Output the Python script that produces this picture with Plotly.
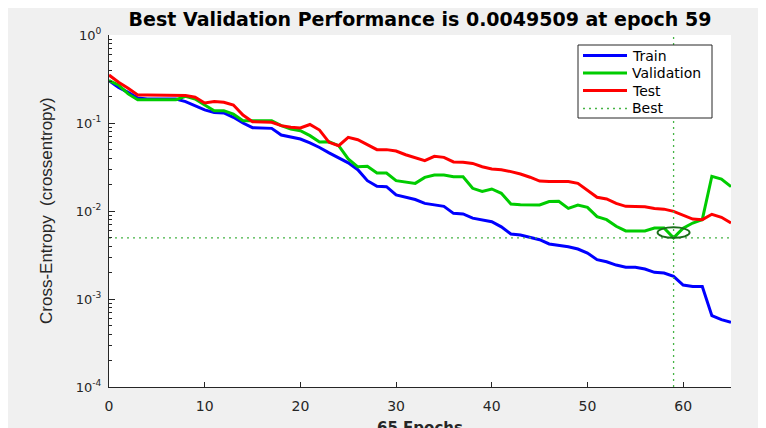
import plotly.graph_objects as go

# ---------------- data ----------------
epochs = list(range(0, 66))

train = [0.303, 0.254, 0.223, 0.192, 0.187, 0.187, 0.187, 0.187, 0.175, 0.157,
         0.141, 0.132, 0.130, 0.116, 0.100, 0.0885, 0.0878, 0.0869, 0.0730, 0.0687,
         0.0658, 0.0593, 0.0527, 0.0458, 0.0402, 0.0353, 0.0295, 0.0221, 0.0191, 0.0189,
         0.0152, 0.0143, 0.0135, 0.0122, 0.0117, 0.0113, 0.0094, 0.00925, 0.0083, 0.00796,
         0.00756, 0.0066, 0.00548, 0.00534, 0.00502, 0.00472, 0.00422, 0.00411, 0.00393, 0.00370,
         0.00333, 0.0028, 0.00265, 0.00243, 0.00229, 0.00229, 0.00219, 0.00201, 0.00197, 0.00181,
         0.00144, 0.00139, 0.00139, 0.000647, 0.000582, 0.000543]

validation = [0.303, 0.270, 0.214, 0.184, 0.184, 0.184, 0.184, 0.184, 0.201, 0.187,
              0.160, 0.138, 0.138, 0.126, 0.106, 0.106, 0.106, 0.106, 0.0933, 0.0855,
              0.0818, 0.0718, 0.0608, 0.0613, 0.0552, 0.039, 0.0318, 0.0323, 0.027, 0.027,
              0.0221, 0.0212, 0.0206, 0.0241, 0.0256, 0.0256, 0.0245, 0.0245, 0.0181, 0.0167,
              0.0178, 0.0159, 0.012, 0.0118, 0.0117, 0.0117, 0.0128, 0.0129, 0.0107, 0.0117,
              0.0110, 0.00862, 0.00797, 0.0067, 0.00593, 0.00593, 0.00593, 0.00641, 0.00641, 0.0049509,
              0.00636, 0.0073, 0.00797, 0.0248, 0.0231, 0.0189]

test = [0.351, 0.290, 0.248, 0.208, 0.208, 0.208, 0.208, 0.208, 0.205, 0.196,
        0.169, 0.175, 0.172, 0.160, 0.123, 0.1035, 0.1035, 0.102, 0.0933, 0.0893,
        0.0877, 0.0962, 0.0832, 0.0603, 0.0552, 0.0687, 0.0646, 0.0567, 0.0498, 0.0498,
        0.048, 0.0436, 0.0407, 0.0373, 0.0418, 0.0407, 0.0361, 0.0359, 0.0347, 0.0318,
        0.030, 0.0294, 0.028, 0.0263, 0.0242, 0.0219, 0.0217, 0.0216, 0.0216, 0.0206,
        0.017, 0.0143, 0.0137, 0.0122, 0.0113, 0.0113, 0.0112, 0.0107, 0.0105, 0.0099,
        0.0090, 0.0081, 0.00797, 0.00917, 0.00848, 0.0073]

best_epoch = 59
best_perf = 0.0049509

series_names = ["Train", "Validation", "Test", "Best"]
series_colors = ["rgb(0,0,255)", "rgb(0,204,0)", "rgb(255,0,0)", "rgb(70,180,70)"]

y_tick_vals = [1e-4, 1e-3, 1e-2, 1e-1, 1e0]
y_tick_text = ["10<sup>-4</sup>", "10<sup>-3</sup>", "10<sup>-2</sup>", "10<sup>-1</sup>", "10<sup>0</sup>"]
x_tick_vals = [0, 10, 20, 30, 40, 50, 60]
x_range = [0, 65]
y_min, y_max = 1e-4, 1e0

title_text = "Best Validation Performance is 0.0049509 at epoch 59"
y_title = "Cross-Entropy\u00a0 (crossentropy)"
x_title = "65 Epochs"

# ---------------- layout constants (figure pixels) ----------------
W, H = 766, 428
ML, MT = 101, 27
PW, PH = 622, 352
MR, MB = W - ML - PW, H - MT - PH
AX = "#262626"
TXT = "DejaVu Sans"
best_dash = "2px,4px"


def px_x(p):
    return (p - ML) / PW


def px_y(p):
    return 1 - (p - MT) / PH


minor_vals = [m * 10 ** e for e in range(-4, 0) for m in range(2, 10)]

fig = go.Figure()
for name, vals, col in zip(series_names[:3], [train, validation, test], series_colors[:3]):
    fig.add_trace(go.Scatter(x=epochs, y=vals, mode="lines", name=name,
                             line=dict(color=col, width=3), showlegend=False))
best_line = dict(color=series_colors[3], width=1.3, dash=best_dash)
fig.add_trace(go.Scatter(x=[best_epoch, best_epoch], y=[y_min, y_max], mode="lines",
                         name="Best", line=best_line, showlegend=False))
fig.add_trace(go.Scatter(x=x_range, y=[best_perf, best_perf], mode="lines",
                         name="Best", line=best_line, showlegend=False))

fig.add_shape(type="circle", xref="x", yref="y", xsizemode="pixel", ysizemode="pixel",
              xanchor=best_epoch, yanchor=best_perf, x0=-16, x1=16, y0=-10.5, y1=10.5,
              line=dict(color="rgb(25,110,25)", width=2))

# ---------------- legend box (drawn manually for exact MATLAB look) ----------------
LX0, LY0, LX1, LY1 = 570, 37, 704, 110
fig.add_shape(type="rect", xref="paper", yref="paper",
              x0=px_x(LX0), x1=px_x(LX1), y0=px_y(LY1), y1=px_y(LY0),
              line=dict(color=AX, width=1), fillcolor="white", layer="above")
row_y = [47.5, 65, 82.5, 100.5]
for i, (name, col) in enumerate(zip(series_names, series_colors)):
    ly = px_y(row_y[i])
    if name == "Best":
        ln = dict(color=col, width=1.3, dash=best_dash)
    else:
        ln = dict(color=col, width=3)
    fig.add_shape(type="line", xref="paper", yref="paper",
                  x0=px_x(575), x1=px_x(619), y0=ly, y1=ly, line=ln, layer="above")
    fig.add_annotation(text=name, xref="paper", yref="paper", x=px_x(622), y=ly,
                       xanchor="left", yanchor="middle", showarrow=False,
                       font=dict(family=TXT, size=14, color="black"))

fig.add_annotation(text=y_title, xref="paper", yref="paper", x=px_x(38), y=0.5,
                   textangle=-90, showarrow=False, xanchor="center", yanchor="middle",
                   font=dict(family="Liberation Sans", size=17, color=AX))
fig.add_annotation(text="<b>" + x_title + "</b>", xref="paper", yref="paper", x=0.5, y=0,
                   xanchor="center", yanchor="top", yshift=-30, showarrow=False,
                   font=dict(family=TXT, size=15, color=AX))

fig.update_layout(
    width=W, height=H, autosize=False,
    margin=dict(l=ML, r=MR, t=MT, b=MB, pad=0),
    paper_bgcolor="#f0f0f0", plot_bgcolor="white",
    title=dict(text="<b>" + title_text + "</b>", x=(ML + PW / 2) / W, xanchor="center",
               y=1 - 11 / H, yanchor="middle", yref="container",
               font=dict(family=TXT, size=19, color="black")),
    showlegend=False,
    xaxis=dict(range=x_range, tickmode="array", tickvals=x_tick_vals,
               showgrid=False, zeroline=False, showline=True, linecolor=AX, linewidth=1,
               mirror=False, ticks="inside", ticklen=5, tickcolor=AX,
               ticklabelstandoff=6,
               tickfont=dict(family=TXT, size=14, color=AX)),
    yaxis=dict(type="log", range=[-4, 0], tickmode="array", tickvals=y_tick_vals,
               ticktext=y_tick_text, showgrid=False, zeroline=False, showline=True,
               linecolor=AX, linewidth=1, mirror=False, ticks="inside", ticklen=6,
               tickcolor=AX, ticklabelstandoff=4,
               tickfont=dict(family=TXT, size=13, color=AX),
               minor=dict(tickmode="array", tickvals=minor_vals, ticks="inside",
                          ticklen=3, tickcolor=AX, showgrid=False)),
)

fig.write_html("out.html")
